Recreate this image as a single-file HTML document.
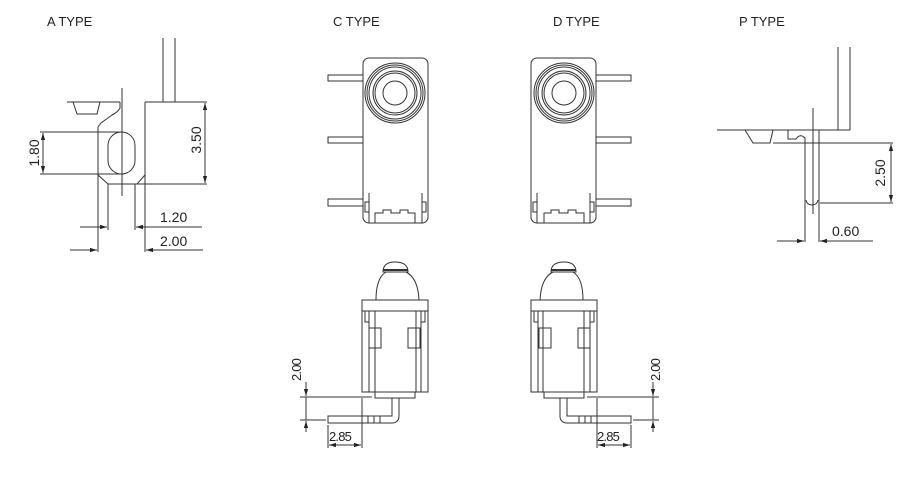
<!DOCTYPE html>
<html><head><meta charset="utf-8"><style>
html,body{margin:0;padding:0;background:#fff}
svg{display:block}
text{font-family:"Liberation Sans",sans-serif;fill:#222}
</style></head><body>
<svg width="902" height="486" viewBox="0 0 902 486" xmlns="http://www.w3.org/2000/svg">
<defs>
<marker id="ar" viewBox="0 0 10 10" refX="10" refY="5" markerWidth="7" markerHeight="7" orient="auto-start-reverse"><path d="M0,2 L10,5 L0,8 z" fill="#222"/></marker>
</defs>
<g font-size="13">
<text x="47" y="26">A TYPE</text>
<text x="333" y="26">C TYPE</text>
<text x="553" y="26">D TYPE</text>
<text x="739" y="26">P TYPE</text>
</g>
<g fill="none" stroke="#333" stroke-width="1">
<line x1="163" y1="38" x2="163" y2="102"/>
<line x1="175" y1="38" x2="175" y2="102"/>
<line x1="67" y1="102" x2="120" y2="102"/>
<line x1="145" y1="102" x2="207" y2="102"/>
<path d="M73,102 L77,114 L97,114 L100,102"/>
<path d="M120,102 L120,108 Q118,112 112,115 L101,123 L98,127 L98,252"/>
<line x1="145" y1="102" x2="145" y2="252"/>
<path d="M98,175 L108,184 L137,184 L145,175"/>
<line x1="108" y1="184" x2="207" y2="184"/>
<rect x="108" y="132" width="27" height="42" rx="13.5"/>
<line x1="122" y1="88" x2="122" y2="196"/>
<line x1="108" y1="184" x2="108" y2="230"/>
<line x1="135" y1="184" x2="135" y2="230"/>
<line x1="40" y1="132" x2="122" y2="132"/>
<line x1="40" y1="174" x2="122" y2="174"/>
<line x1="43" y1="133" x2="43" y2="173" marker-start="url(#ar)" marker-end="url(#ar)"/>
<line x1="205" y1="103" x2="205" y2="183" marker-start="url(#ar)" marker-end="url(#ar)"/>
<line x1="80" y1="227" x2="107" y2="227" marker-end="url(#ar)"/>
<line x1="136" y1="227" x2="202" y2="227" marker-start="url(#ar)"/>
<line x1="70" y1="250" x2="97" y2="250" marker-end="url(#ar)"/>
<line x1="146" y1="250" x2="203" y2="250" marker-start="url(#ar)"/>

<line x1="838" y1="47" x2="838" y2="130"/>
<path d="M850,47 L850,130 L717,130"/>
<path d="M745,130 L753,143 L770,143 L773,130"/>
<path d="M788,130 L788,139 L796,139 Q800,133 805,138 L805,242"/>
<line x1="773" y1="143" x2="893" y2="143"/>
<line x1="819" y1="130" x2="819" y2="242"/>
<line x1="813" y1="108" x2="813" y2="214"/>
<path d="M806,200 Q807,205 812,205 Q817,205 818,200"/>
<line x1="820" y1="203" x2="893" y2="203"/>
<line x1="891" y1="144" x2="891" y2="202" marker-start="url(#ar)" marker-end="url(#ar)"/>
<line x1="777" y1="241" x2="804" y2="241" marker-end="url(#ar)"/>
<line x1="820" y1="241" x2="873" y2="241" marker-start="url(#ar)"/>
</g>

<g id="c" fill="none" stroke="#333" stroke-width="1">
<rect x="363" y="58" width="65" height="165" rx="6"/>
<circle cx="395" cy="93" r="30"/>
<circle cx="395" cy="93" r="28"/>
<circle cx="395" cy="93" r="26"/>
<circle cx="395" cy="93" r="22"/>
<circle cx="395" cy="93" r="20"/>
<circle cx="395" cy="93" r="12"/>
<rect x="328" y="75" width="35" height="6"/>
<rect x="328" y="137" width="35" height="6"/>
<rect x="328" y="199" width="35" height="7"/>
<line x1="369" y1="193" x2="369" y2="223"/>
<line x1="422" y1="193" x2="422" y2="223"/>
<rect x="365" y="202" width="4" height="10"/>
<rect x="422" y="202" width="4" height="10"/>
<path d="M375,223 L375,213 L383,213 L383,210 L391,210 L391,213 L400,213 L400,210 L408,210 L408,213 L415,213 L415,223"/>
<path d="M376,300 Q376,278 386,272 L406,272 Q418,278 419,300"/>
<path d="M383,272 Q383,262 395,262 Q408,262 408,272 Z"/>
<line x1="383" y1="270" x2="408" y2="270" stroke-width="2"/>
<rect x="362" y="300" width="66" height="92"/>
<line x1="362" y1="311" x2="428" y2="311"/>
<line x1="369" y1="311" x2="369" y2="392"/>
<line x1="375" y1="311" x2="375" y2="392"/>
<line x1="416" y1="311" x2="416" y2="392"/>
<line x1="421" y1="311" x2="421" y2="392"/>
<rect x="369" y="328" width="12" height="20"/>
<rect x="408" y="328" width="12" height="20"/>
<path d="M365,311 L365,322 L369,322 M425,311 L425,322 L421,322"/>
<rect x="375" y="392" width="40" height="6"/>
<path d="M392,398 L392,416 L328,416 L328,423 L393,423 Q399,422 399,416 L399,398"/>
<line x1="362" y1="416" x2="362" y2="423"/>
<line x1="368" y1="416" x2="368" y2="423"/>
<line x1="374" y1="416" x2="374" y2="423"/>
<line x1="380" y1="416" x2="380" y2="423"/>
<line x1="300" y1="397" x2="372" y2="397"/>
<line x1="300" y1="420" x2="326" y2="420"/>
<line x1="306" y1="382" x2="306" y2="396" marker-end="url(#ar)"/>
<line x1="306" y1="432" x2="306" y2="421" marker-end="url(#ar)"/>
<line x1="306" y1="397" x2="306" y2="420"/>
<line x1="328" y1="425" x2="328" y2="448"/>
<line x1="362" y1="398" x2="362" y2="448"/>
<line x1="329" y1="445" x2="361" y2="445" marker-start="url(#ar)" marker-end="url(#ar)"/>
</g>
<use href="#c" transform="translate(959,0) scale(-1,1)"/>

<g font-size="14">
<text x="160" y="222">1.20</text>
<text x="160" y="246">2.00</text>
<text transform="translate(39,153) rotate(-90)" text-anchor="middle">1.80</text>
<text transform="translate(201,140) rotate(-90)" text-anchor="middle">3.50</text>
<text transform="translate(885,173) rotate(-90)" text-anchor="middle">2.50</text>
<text x="832" y="236">0.60</text>
</g>
<g font-size="13" letter-spacing="-0.8">
<text transform="translate(301,370) rotate(-90)" text-anchor="middle">2.00</text>
<text x="329" y="441">2.85</text>
<text transform="translate(660,370) rotate(-90)" text-anchor="middle">2.00</text>
<text x="597" y="441">2.85</text>
</g>
</svg>
</body></html>
